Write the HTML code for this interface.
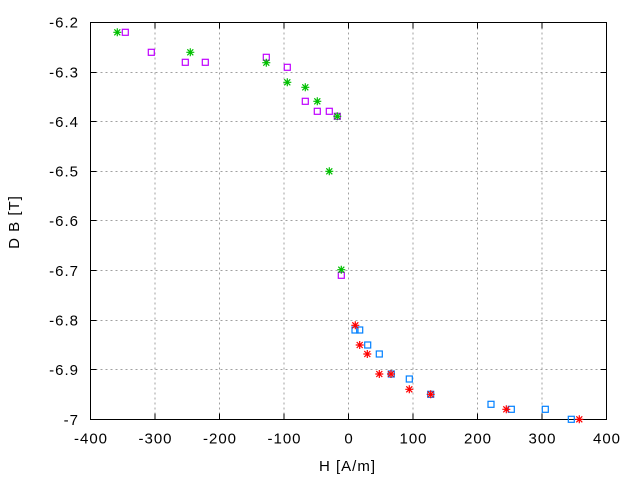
<!DOCTYPE html>
<html>
<head>
<meta charset="utf-8">
<style>
html,body{margin:0;padding:0;background:#fff;}
svg{display:block;}
text{font-family:"Liberation Sans","DejaVu Sans",sans-serif;font-size:15px;fill:#000;letter-spacing:1px;}
</style>
</head>
<body>
<svg width="640" height="480" viewBox="0 0 640 480" xmlns="http://www.w3.org/2000/svg">
<rect x="0" y="0" width="640" height="480" fill="#fff"/>
<defs>
  <g id="sq"><rect x="-3" y="-3" width="6" height="6" fill="none" stroke-width="1.2"/></g>
  <g id="st"><path d="M-4 0H4M0 -4V4M-3 -3L3 3M-3 3L3 -3" fill="none" stroke-width="1.2"/></g>
</defs>
<!-- grid -->
<g stroke="#a0a0a0" stroke-width="1" stroke-dasharray="2,3" fill="none">
  <path d="M155 22.5V419.5M219.5 22.5V419.5M284 22.5V419.5M348.5 22.5V419.5M413 22.5V419.5M477.5 22.5V419.5M542 22.5V419.5"/>
  <path d="M90.5 72.5H606.5M90.5 121.5H606.5M90.5 171.5H606.5M90.5 220.5H606.5M90.5 270.5H606.5M90.5 320.5H606.5M90.5 369.5H606.5"/>
</g>
<!-- ticks -->
<g stroke="#000" stroke-width="1" fill="none">
  <path d="M90.5 72.5h6M90.5 121.5h6M90.5 171.5h6M90.5 220.5h6M90.5 270.5h6M90.5 320.5h6M90.5 369.5h6"/>
  <path d="M606.5 72.5h-6M606.5 121.5h-6M606.5 171.5h-6M606.5 220.5h-6M606.5 270.5h-6M606.5 320.5h-6M606.5 369.5h-6"/>
  <path d="M155 419.5v-6M219.5 419.5v-6M284 419.5v-6M348.5 419.5v-6M413 419.5v-6M477.5 419.5v-6M542 419.5v-6"/>
  <path d="M155 22.5v6M219.5 22.5v6M284 22.5v6M348.5 22.5v6M413 22.5v6M477.5 22.5v6M542 22.5v6"/>
  <rect x="90.5" y="22.5" width="516" height="397"/>
</g>
<!-- y tick labels -->
<g text-anchor="end">
  <text x="79" y="27.5">-6.2</text>
  <text x="79" y="77.5">-6.3</text>
  <text x="79" y="127">-6.4</text>
  <text x="79" y="176.5">-6.5</text>
  <text x="79" y="226">-6.6</text>
  <text x="79" y="276">-6.7</text>
  <text x="79" y="325.5">-6.8</text>
  <text x="79" y="375">-6.9</text>
  <text x="79" y="425">-7</text>
</g>
<!-- x tick labels -->
<g text-anchor="middle">
  <text x="91" y="443.5">-400</text>
  <text x="155.5" y="443.5">-300</text>
  <text x="220" y="443.5">-200</text>
  <text x="284.5" y="443.5">-100</text>
  <text x="349" y="443.5">0</text>
  <text x="413.5" y="443.5">100</text>
  <text x="478" y="443.5">200</text>
  <text x="542.5" y="443.5">300</text>
  <text x="607" y="443.5">400</text>
</g>
<!-- axis labels -->
<text x="347.5" y="471" text-anchor="middle">H [A/m]</text>
<text x="0" y="0" text-anchor="middle" transform="translate(19,222) rotate(-90)">D B [T]</text>
<!-- magenta squares -->
<g stroke="#c000ff">
  <use href="#sq" x="125.3" y="32.3"/>
  <use href="#sq" x="151.3" y="52.3"/>
  <use href="#sq" x="185.3" y="62.3"/>
  <use href="#sq" x="205.3" y="62.3"/>
  <use href="#sq" x="266.3" y="57.3"/>
  <use href="#sq" x="287.3" y="67.3"/>
  <use href="#sq" x="305.3" y="101.3"/>
  <use href="#sq" x="317.3" y="111.3"/>
  <use href="#sq" x="329.3" y="111.3"/>
  <use href="#sq" x="337.3" y="116.3"/>
  <use href="#sq" x="341.3" y="275.3"/>
</g>
<!-- green stars -->
<g stroke="#00c000">
  <use href="#st" x="117.3" y="32.3"/>
  <use href="#st" x="190.3" y="52.3"/>
  <use href="#st" x="266.3" y="62.7"/>
  <use href="#st" x="287.3" y="82.3"/>
  <use href="#st" x="305.3" y="87.3"/>
  <use href="#st" x="317.3" y="101.3"/>
  <use href="#st" x="337.3" y="116.3"/>
  <use href="#st" x="329.3" y="171.3"/>
  <use href="#st" x="341.3" y="269.7"/>
</g>
<!-- blue squares -->
<g stroke="#0080ff">
  <use href="#sq" x="355" y="330"/>
  <use href="#sq" x="359.7" y="330"/>
  <use href="#sq" x="367.7" y="345"/>
  <use href="#sq" x="379.3" y="354"/>
  <use href="#sq" x="391.3" y="374"/>
  <use href="#sq" x="409.3" y="379"/>
  <use href="#sq" x="430.7" y="394.3"/>
  <use href="#sq" x="491" y="404.3"/>
  <use href="#sq" x="511.3" y="409.3"/>
  <use href="#sq" x="545.3" y="409.3"/>
  <use href="#sq" x="571.3" y="419.3"/>
</g>
<!-- red stars -->
<g stroke="#ff0000">
  <use href="#st" x="355.3" y="325.3"/>
  <use href="#st" x="359.7" y="345"/>
  <use href="#st" x="367.3" y="354"/>
  <use href="#st" x="379.3" y="374"/>
  <use href="#st" x="391" y="374"/>
  <use href="#st" x="409.3" y="389.3"/>
  <use href="#st" x="430.7" y="394.3"/>
  <use href="#st" x="506.3" y="409.3"/>
  <use href="#st" x="579.3" y="419.3"/>
</g>
</svg>
</body>
</html>
